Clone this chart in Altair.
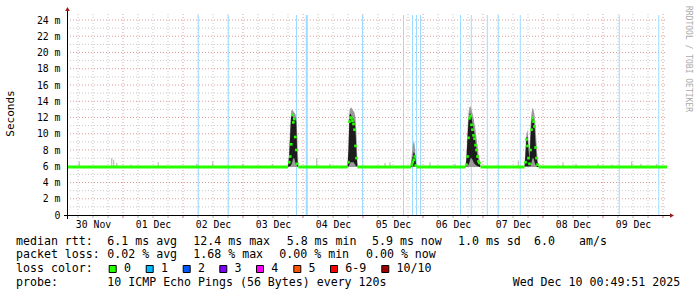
import json
import altair as alt
import pandas as pd

# ---------------- data (hours since 2025-11-30 00:00, values in ms) ----------------
X0, X1 = 1.6, 241.6
YMAX = 24.74
W, H = 600, 201

day_labels = ["30 Nov", "01 Dec", "02 Dec", "03 Dec", "04 Dec",
              "05 Dec", "06 Dec", "07 Dec", "08 Dec", "09 Dec"]
y_ticks = [0, 2, 4, 6, 8, 10, 12, 14, 16, 18, 20, 22, 24]
baseline_ms = 5.9

# hours with packet loss (full-height light-blue bars)
loss_hours = [54.1, 66.1, 93.4, 97.5, 119.8, 136.2, 139.8, 141.4, 143.0,
              159.0, 163.3, 169.7, 174.1, 182.9, 222.5, 238.3]
loss_widths = [1, 1, 1, 2, 1, 1, 1, 1, 1, 1, 1, 1, 1, 1, 1, 1]

# small smoke flecks above the flat baseline
noise_hours = [6.5, 19.5, 20.3, 21.5, 27.2, 38.1, 53.5, 59.9, 71.9, 83.7, 101.5,
               106.8, 128.8, 130.8, 146.8, 156.8, 182.1, 200.0, 205.2, 214.0,
               219.6, 227.5, 231.2, 237.5]
noise_vals = [6.6, 7.0, 6.8, 6.4, 6.2, 6.5, 6.3, 6.6, 6.3, 6.3, 7.0,
              6.3, 6.4, 6.5, 6.5, 6.3, 6.7, 6.5, 6.3, 6.3,
              6.2, 6.6, 6.3, 6.3]

# evening congestion episodes
s1_h = [90.0, 90.5, 90.9, 91.3, 91.7, 92.1, 92.5, 92.9, 93.3, 93.7, 94.1]
s1_hi = [5.9, 7.8, 11.0, 12.8, 13.0, 12.8, 12.6, 12.5, 12.0, 10.0, 6.2]
s1_dlo = [5.9, 6.0, 6.0, 6.2, 6.5, 7.0, 7.0, 6.5, 6.2, 6.0, 5.9]
s1_dhi = [5.9, 7.5, 10.0, 12.4, 12.3, 12.0, 11.8, 12.0, 11.5, 7.0, 5.9]
s1_med = [5.9, 6.5, 7.2, 8.7, 12.3, 11.4, 11.8, 9.6, 8.0, 6.3, 5.9]

s2_h = [113.8, 114.2, 114.6, 115.0, 115.4, 115.8, 116.2, 116.6, 117.0, 117.4, 117.8]
s2_hi = [5.9, 9.0, 12.8, 13.2, 13.2, 13.0, 12.8, 12.6, 12.0, 10.0, 6.2]
s2_dlo = [5.9, 6.0, 6.2, 6.5, 6.5, 6.5, 6.5, 6.3, 6.1, 6.0, 5.9]
s2_dhi = [5.9, 8.0, 12.3, 12.5, 12.2, 12.0, 11.8, 11.5, 10.5, 7.5, 5.9]
s2_med = [5.9, 6.5, 11.5, 12.0, 11.9, 11.6, 11.2, 10.5, 8.5, 7.0, 5.9]

s3_h = [139.2, 139.5, 139.9, 140.3, 140.7, 141.1, 141.4]
s3_hi = [5.9, 7.5, 8.5, 9.2, 8.6, 7.0, 5.9]
s3_dlo = [5.9, 6.0, 6.0, 6.0, 6.0, 6.0, 5.9]
s3_dhi = [5.9, 6.8, 7.2, 7.8, 7.5, 6.5, 5.9]
s3_med = [5.9, 6.2, 6.5, 6.8, 7.2, 6.1, 5.9]

s4_h = [161.0, 161.4, 161.8, 162.2, 162.6, 163.0, 163.4, 163.8, 164.2, 164.6,
        165.0, 165.4, 165.8, 166.2, 166.6, 167.0]
s4_hi = [5.9, 7.5, 10.5, 12.5, 13.3, 13.4, 13.0, 12.5, 12.0, 11.2, 10.5, 9.5, 8.5, 7.5, 6.8, 6.0]
s4_dlo = [5.9, 6.0, 6.0, 6.2, 6.5, 7.0, 7.0, 6.8, 6.5, 6.3, 6.2, 6.1, 6.0, 6.0, 5.9, 5.9]
s4_dhi = [5.9, 7.0, 9.5, 11.5, 12.5, 12.5, 12.0, 11.2, 10.7, 10.0, 9.0, 8.0, 7.2, 6.8, 6.4, 5.9]
s4_med = [5.9, 6.2, 7.2, 9.5, 11.9, 12.2, 11.1, 10.5, 9.8, 9.4, 8.6, 8.0, 7.2, 6.6, 6.4, 5.9]

s5_h = [184.6, 185.0, 185.4, 185.8, 186.2, 186.6, 187.0, 187.4, 187.8, 188.2,
        188.6, 189.0, 189.4, 189.8, 190.2]
s5_hi = [5.9, 8.5, 10.0, 10.5, 9.0, 8.0, 11.0, 12.5, 13.2, 13.0, 12.3, 11.0, 9.0, 7.0, 6.0]
s5_dlo = [5.9, 6.0, 6.0, 6.0, 6.0, 6.0, 6.0, 6.5, 7.0, 7.0, 6.5, 6.2, 6.0, 5.9, 5.9]
s5_dhi = [5.9, 7.5, 9.6, 9.6, 8.0, 6.8, 9.5, 11.5, 12.0, 11.8, 11.0, 9.0, 7.2, 6.4, 5.9]
s5_med = [5.9, 6.5, 9.3, 8.5, 7.0, 6.3, 8.0, 10.5, 11.9, 11.5, 10.9, 8.3, 7.0, 6.2, 5.9]

# legend text
rtt_items = ["median rtt:", "6.1 ms avg", "12.4 ms max", "5.8 ms min",
             "5.9 ms now", "1.0 ms sd", "6.0", "am/s"]
loss_items = ["packet loss:", "0.02 % avg", "1.68 % max", "0.00 % min", "0.00 % now"]
loss_labels = ["0", "1", "2", "3", "4", "5", "6-9", "10/10"]
loss_colors = ["#26ff00", "#00b8ff", "#0059ff", "#7e00ff", "#ff00ff",
               "#ff5500", "#ff0000", "#a10000"]
probe_items = ["probe:", "10 ICMP Echo Pings (56 Bytes) every 120s",
               "Wed Dec 10 00:49:51 2025"]

# ---------------- tables ----------------
spikes = [(s1_h, s1_hi, s1_dlo, s1_dhi, s1_med),
          (s2_h, s2_hi, s2_dlo, s2_dhi, s2_med),
          (s3_h, s3_hi, s3_dlo, s3_dhi, s3_med),
          (s4_h, s4_hi, s4_dlo, s4_dhi, s4_med),
          (s5_h, s5_hi, s5_dlo, s5_dhi, s5_med)]
rows = []
for k, (hs, hi, dlo, dhi, med) in enumerate(spikes):
    for i in range(len(hs)):
        rows.append(dict(spike=k, h=hs[i], lo=baseline_ms, hi=hi[i],
                         dlo=dlo[i], dhi=dhi[i], med=med[i]))
spike_df = pd.DataFrame(rows)

seg_rows = []
edges = [X0] + [v for s in spikes for v in (s[0][0], s[0][-1])] + [X1]
for j in range(0, len(edges), 2):
    seg_rows.append(dict(seg=j, h=edges[j], v=baseline_ms))
    seg_rows.append(dict(seg=j, h=edges[j + 1], v=baseline_ms))
seg_df = pd.DataFrame(seg_rows)
spike_med_df = spike_df[(spike_df.med > baseline_ms)]

loss_df = pd.DataFrame({"h": loss_hours, "w": loss_widths})
noise_df = pd.DataFrame({"h": noise_hours, "v": noise_vals})

hgrid_minor = pd.DataFrame({"v": [v for v in range(1, 25) if v % 2 == 1]})
hgrid_major = pd.DataFrame({"v": [v for v in y_ticks if v > 0]})
vgrid_minor = pd.DataFrame({"h": [h for h in range(6, 242, 6) if h % 24 != 0 and X0 <= h <= X1]})
vgrid_major = pd.DataFrame({"h": [h for h in range(24, 242, 24)]})
tick_df = pd.DataFrame({"h": [h for h in range(6, 242, 6)],
                        "major": [h % 24 == 0 for h in range(6, 242, 6)]})

MONO = "DejaVu Sans Mono"
xs = alt.Scale(domain=[X0, X1], nice=False, zero=False)
ys = alt.Scale(domain=[0, YMAX], nice=False, zero=False)

label_js = json.dumps(day_labels)
x_axis = alt.Axis(values=[12 + 24 * i for i in range(10)],
                  labelExpr=f"{label_js}[floor(datum.value/24)]",
                  ticks=False, domain=False, grid=False, title=None,
                  labelFont=MONO, labelFontSize=9.8, labelColor="#000000",
                  labelPadding=4, labelFlush=False)
y_axis = alt.Axis(values=y_ticks,
                  labelExpr="datum.value == 0 ? '0' : datum.value + ' m'",
                  ticks=False, domain=False, grid=False, title=None,
                  labelFont=MONO, labelFontSize=9.8, labelColor="#000000",
                  labelPadding=7)

NX = lambda f: alt.X(f, type="quantitative", scale=xs, axis=x_axis)
NY = lambda f: alt.Y(f, type="quantitative", scale=ys, axis=y_axis)

one = alt.Data(values=[{"a": 1}])

layers = []
layers.append(alt.Chart(hgrid_minor).mark_rule(color="#c8c8c8", strokeDash=[1, 2], strokeWidth=1).encode(
    y=NY("v"), x=alt.value(0), x2=alt.value(W)))
layers.append(alt.Chart(vgrid_minor).mark_rule(color="#c8c8c8", strokeDash=[1, 2], strokeWidth=1).encode(
    x=NX("h"), y=alt.value(0), y2=alt.value(H)))
layers.append(alt.Chart(hgrid_major).mark_rule(color="#e09a9a", strokeDash=[1, 2], strokeWidth=1).encode(
    y=NY("v"), x=alt.value(0), x2=alt.value(W)))
layers.append(alt.Chart(vgrid_major).mark_rule(color="#e09a9a", strokeDash=[1, 2], strokeWidth=1).encode(
    x=NX("h"), y=alt.value(0), y2=alt.value(H)))

# loss bars
layers.append(alt.Chart(loss_df).mark_rule(color="#9edcff").encode(
    x=NX("h"), y=alt.value(1), y2=alt.value(H),
    strokeWidth=alt.StrokeWidth("w:Q", scale=None, legend=None)))

# baseline smoke flecks
layers.append(alt.Chart(noise_df).mark_rule(color="#b0b0b0", strokeWidth=1).encode(
    x=NX("h"), y=NY("v"), y2=alt.datum(baseline_ms)))

# smoke
layers.append(alt.Chart(spike_df).mark_area(color="#9a9a9a", interpolate="linear").encode(
    x=NX("h"), y=NY("lo"), y2="hi:Q", detail="spike:N"))
layers.append(alt.Chart(spike_df).mark_area(color="#1c1c1c", interpolate="linear").encode(
    x=NX("h"), y=NY("dlo"), y2="dhi:Q", detail="spike:N"))

# median
layers.append(alt.Chart(seg_df).mark_line(color="#26ff00", strokeWidth=3, strokeCap="butt").encode(
    x=NX("h"), y=NY("v"), detail="seg:N"))
layers.append(alt.Chart(spike_med_df).mark_square(color="#26ff00", size=7, opacity=1).encode(
    x=NX("h"), y=NY("med")))

# x-axis ticks
layers.append(alt.Chart(tick_df).mark_rule(strokeWidth=1).encode(
    x=NX("h"), y=alt.value(H), y2=alt.value(H + 3),
    color=alt.Color("major:N", scale=alt.Scale(domain=[True, False], range=["#d06060", "#b0b0b0"]), legend=None)))

# axis lines + arrows
layers.append(alt.Chart(one).mark_rule(color="#000000", strokeWidth=1).encode(
    x=alt.value(-3), x2=alt.value(W + 4), y=alt.value(H + 0.5)))
layers.append(alt.Chart(one).mark_rule(color="#000000", strokeWidth=1).encode(
    x=alt.value(0.5), y=alt.value(-4), y2=alt.value(H + 4)))
layers.append(alt.Chart(one).mark_point(shape="triangle-right", filled=True, color="#9b1c1c", size=22, opacity=1).encode(
    x=alt.value(W + 5), y=alt.value(H + 0.5)))
layers.append(alt.Chart(one).mark_point(shape="triangle-up", filled=True, color="#9b1c1c", size=22, opacity=1).encode(
    x=alt.value(0.5), y=alt.value(-5)))

# y title and watermark
layers.append(alt.Chart(one).mark_text(text="Seconds", angle=270, font=MONO, fontSize=11,
                                       color="#000000", align="center", baseline="middle").encode(
    x=alt.value(11 - 67), y=alt.value(113.5 - 14)))
layers.append(alt.Chart(one).mark_text(text="RRDTOOL / TOBI OETIKER", angle=90, font=MONO, fontSize=8,
                                       color="#aaaaaa", align="center", baseline="middle").encode(
    x=alt.value(688 - 67), y=alt.value(59 - 14)))

# legend
def txt(px, py, s):
    return alt.Chart(one).mark_text(text=s, font=MONO, fontSize=11.6, color="#000000",
                                    align="left", baseline="middle").encode(
        x=alt.value(px - 67), y=alt.value(py - 14))

row_y = [241.7, 255.3, 269.0, 282.7]
rtt_x = [16, 107.3, 193.3, 286.7, 372, 458, 534, 579]
loss_x = [16, 107.3, 193.3, 279.3, 366]
sw_x = [108.7, 145.7, 182.7, 219.3, 256, 293.3, 330, 381.3]
probe_x = [16, 107.3, 512.7]

for s, px in zip(rtt_items, rtt_x):
    layers.append(txt(px, row_y[0], s))
for s, px in zip(loss_items, loss_x):
    layers.append(txt(px, row_y[1], s))
layers.append(txt(16, row_y[2], "loss color:"))
for s, c, px in zip(loss_labels, loss_colors, sw_x):
    layers.append(alt.Chart(one).mark_square(size=49, fill=c, stroke="#000000", strokeWidth=1, opacity=1).encode(
        x=alt.value(px + 4 - 67), y=alt.value(row_y[2] - 14)))
    layers.append(txt(px + 15.3, row_y[2], s))
for s, px in zip(probe_items, probe_x):
    layers.append(txt(px, row_y[3], s))

chart = alt.layer(*layers).properties(
    width=W, height=H,
    autosize=alt.AutoSizeParams(type="none"),
    padding={"left": 67, "top": 14, "right": 30, "bottom": 82},
    background="#ffffff",
).configure_view(stroke=None)

chart.save("out.html", embed_options={"renderer": "svg", "actions": False})
